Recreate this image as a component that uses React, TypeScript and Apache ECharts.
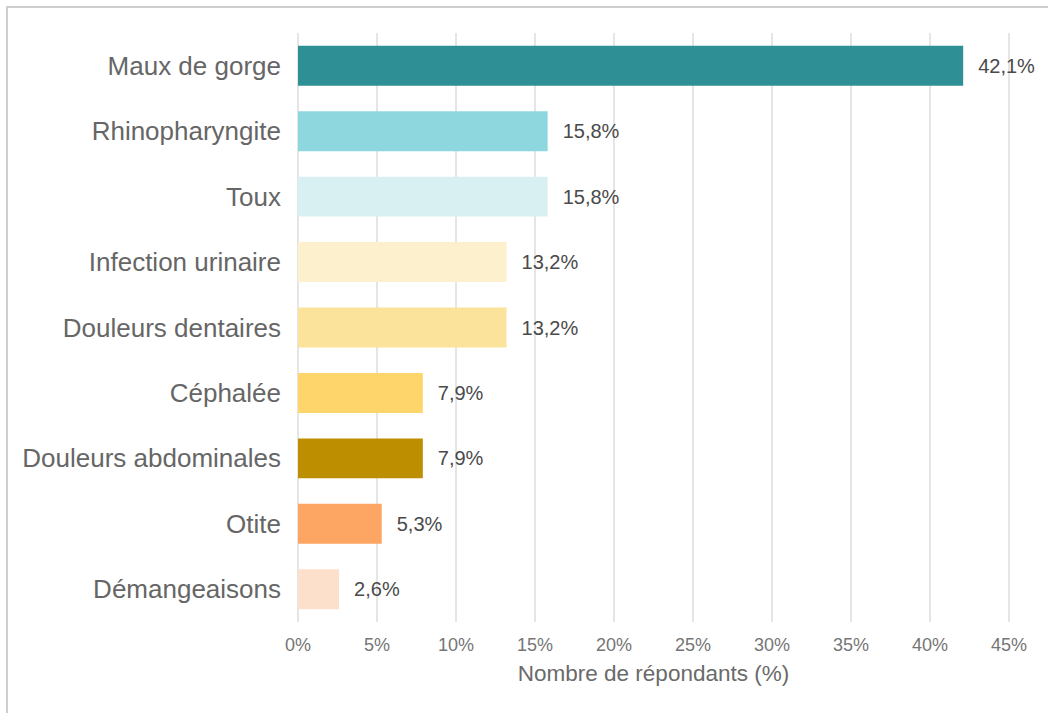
import React, { useEffect, useRef } from "react";
import * as echarts from "echarts";

const categories = [
  "Maux de gorge",
  "Rhinopharyngite",
  "Toux",
  "Infection urinaire",
  "Douleurs dentaires",
  "Céphalée",
  "Douleurs abdominales",
  "Otite",
  "Démangeaisons",
];
const values = [42.1, 15.8, 15.8, 13.2, 13.2, 7.9, 7.9, 5.3, 2.6];
const barColors = [
  "#2e8f95",
  "#8fd7de",
  "#d9f0f2",
  "#fdf0cd",
  "#fbe39b",
  "#fdd56a",
  "#bd8e00",
  "#fda563",
  "#fde0cc",
];
const xTicks = [0, 5, 10, 15, 20, 25, 30, 35, 40, 45];
const axisTitle = "Nombre de répondants (%)";

const FONT = "Arial, 'Liberation Sans', sans-serif";

export default function App() {
  const ref = useRef<HTMLDivElement>(null);
  useEffect(() => {
    if (!ref.current) return;
    const chart = echarts.init(ref.current, undefined, { renderer: "svg" });
    chart.setOption({
      animation: false,
      backgroundColor: "#ffffff",
      graphic: [
        {
          type: "rect",
          shape: { x: 7, y: 7, width: 1200, height: 900 },
          style: { fill: "none", stroke: "#cfcfcf", lineWidth: 2 },
          silent: true,
        },
      ],
      grid: { left: 298, right: 39, top: 33, bottom: 91, containLabel: false },
      xAxis: {
        type: "value",
        min: xTicks[0],
        max: xTicks[xTicks.length - 1],
        interval: 5,
        axisLine: { show: false },
        axisTick: { show: false },
        splitLine: { show: true, lineStyle: { color: "#dcdcdc", width: 1.5 } },
        axisLabel: {
          formatter: (v: number) => `${v}%`,
          color: "#757575",
          fontSize: 18,
          fontFamily: FONT,
          margin: 14,
        },
        name: axisTitle,
        nameLocation: "middle",
        nameGap: 40,
        nameTextStyle: { color: "#6a6a6a", fontSize: 22.5, fontFamily: FONT },
      },
      yAxis: {
        type: "category",
        inverse: true,
        data: categories,
        axisLine: { show: false },
        axisTick: { show: false },
        axisLabel: {
          color: "#666666",
          fontSize: 26,
          fontFamily: FONT,
          margin: 17,
        },
      },
      series: [
        {
          type: "bar",
          barCategoryGap: "39%",
          data: values.map((v, i) => ({
            value: v,
            itemStyle: { color: barColors[i] },
          })),
          label: {
            show: true,
            position: "right",
            distance: 15,
            formatter: (p: any) => `${String(p.value).replace(".", ",")}%`,
            color: "#4a4a4a",
            fontSize: 20,
            fontFamily: FONT,
          },
        },
      ],
    });
    return () => chart.dispose();
  }, []);
  return (
    <div
      ref={ref}
      style={{ position: "fixed", left: 0, top: 0, width: 1048, height: 713 }}
    />
  );
}
